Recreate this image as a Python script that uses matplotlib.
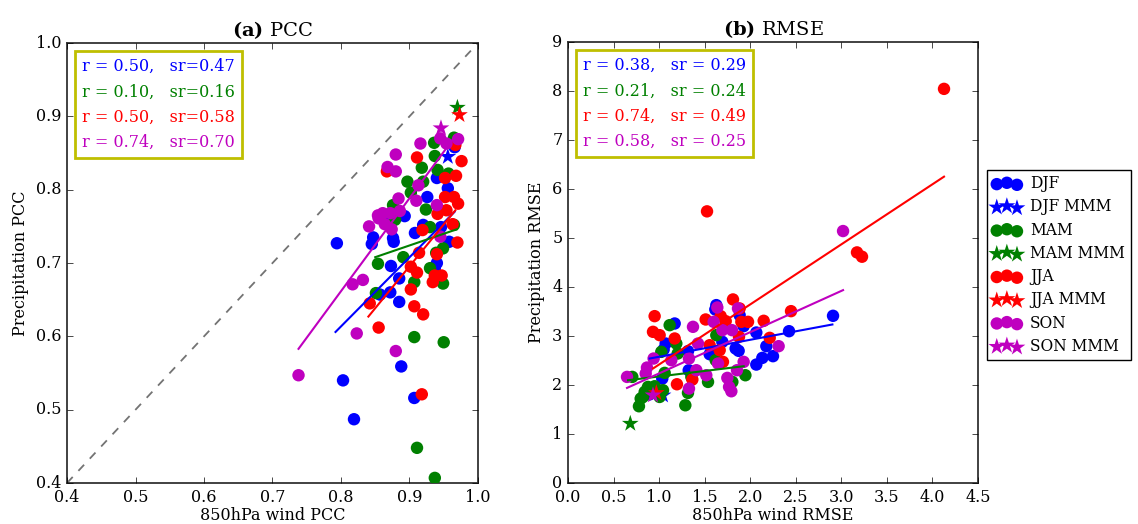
import numpy as np
import matplotlib
matplotlib.use('Agg')
import matplotlib.pyplot as plt
from matplotlib.offsetbox import TextArea, VPacker, AnchoredOffsetbox

plt.style.use('classic')
plt.rcParams['font.family'] = ['DejaVu Serif']
plt.rcParams['mathtext.fontset'] = 'dejavuserif'

seasons = ['DJF', 'MAM', 'JJA', 'SON']
colors = ['b', 'g', 'r', 'm']

# ---- (a) PCC: wind PCC vs precipitation PCC for each model ----
pcc_x = {
    'DJF': [0.794, 0.803, 0.819, 0.888, 0.907, 0.847, 0.845, 0.876, 0.877, 0.893, 0.874, 0.908, 0.920,
            0.926, 0.940, 0.956, 0.946, 0.958, 0.966, 0.873, 0.885, 0.857, 0.872, 0.885, 0.940, 0.937],
    'MAM': [0.937, 0.911, 0.907, 0.950, 0.851, 0.854, 0.891, 0.907, 0.930, 0.949, 0.949, 0.924, 0.930,
            0.965, 0.876, 0.897, 0.902, 0.920, 0.918, 0.937, 0.936, 0.941, 0.957, 0.965, 0.879, 0.939],
    'JJA': [0.918, 0.855, 0.842, 0.902, 0.907, 0.920, 0.902, 0.911, 0.914, 0.934, 0.937, 0.947, 0.940,
            0.919, 0.941, 0.954, 0.952, 0.965, 0.971, 0.963, 0.970, 0.952, 0.968, 0.976, 0.911, 0.867, 0.967],
    'SON': [0.738, 0.823, 0.880, 0.817, 0.832, 0.841, 0.854, 0.855, 0.861, 0.872, 0.864, 0.874, 0.886,
            0.884, 0.868, 0.880, 0.880, 0.910, 0.913, 0.916, 0.940, 0.945, 0.945, 0.954, 0.971],
}
pcc_y = {
    'DJF': [0.727, 0.540, 0.487, 0.559, 0.516, 0.735, 0.726, 0.734, 0.729, 0.764, 0.761, 0.741, 0.752,
            0.790, 0.816, 0.802, 0.749, 0.729, 0.858, 0.696, 0.679, 0.657, 0.660, 0.647, 0.700, 0.693],
    'MAM': [0.407, 0.448, 0.599, 0.592, 0.659, 0.699, 0.708, 0.674, 0.693, 0.672, 0.720, 0.773, 0.749,
            0.752, 0.779, 0.811, 0.796, 0.811, 0.830, 0.846, 0.864, 0.827, 0.822, 0.871, 0.759, 0.714],
    'JJA': [0.521, 0.612, 0.645, 0.664, 0.641, 0.630, 0.695, 0.687, 0.714, 0.674, 0.683, 0.683, 0.712,
            0.745, 0.767, 0.772, 0.790, 0.790, 0.781, 0.753, 0.728, 0.816, 0.819, 0.839, 0.844, 0.825, 0.861],
    'SON': [0.547, 0.604, 0.580, 0.671, 0.677, 0.750, 0.765, 0.761, 0.768, 0.768, 0.753, 0.746, 0.771,
            0.788, 0.831, 0.825, 0.848, 0.785, 0.806, 0.863, 0.779, 0.736, 0.870, 0.863, 0.869],
}
pcc_mmm_x = [0.956, 0.970, 0.973, 0.946]
pcc_mmm_y = [0.845, 0.912, 0.902, 0.884]
# regression line end points
pcc_fit_x = [[0.792, 0.966], [0.850, 0.969], [0.840, 0.967], [0.738, 0.966]]
pcc_fit_y = [[0.606, 0.770], [0.708, 0.746], [0.627, 0.772], [0.583, 0.872]]
pcc_r = ['0.50', '0.10', '0.50', '0.74']
pcc_sr = ['0.47', '0.16', '0.58', '0.70']

# ---- (b) RMSE ----
rmse_x = {
    'DJF': [2.909, 2.426, 2.067, 2.177, 2.133, 2.250, 2.067, 1.628, 1.617, 1.884, 1.928, 1.840, 1.873,
            1.555, 1.694, 1.171, 1.072, 1.050, 1.317, 1.325, 1.035, 0.896],
    'MAM': [0.779, 1.288, 0.798, 0.842, 0.878, 0.951, 1.043, 1.317, 0.706, 1.024, 1.116, 1.189, 1.537,
            1.621, 1.628, 1.804, 1.947, 1.354, 1.061, 1.204, 0.823, 1.006],
    'JJA': [4.127, 1.526, 3.172, 3.227, 2.448, 1.811, 1.884, 1.676, 1.511, 1.731, 1.903, 1.976, 2.148,
            2.214, 1.877, 1.555, 1.665, 1.701, 0.951, 0.933, 1.006, 1.171, 1.196, 1.365],
    'SON': [3.019, 2.312, 1.928, 1.855, 1.749, 1.768, 1.793, 1.647, 1.518, 1.409, 1.328, 1.372, 1.427,
            1.599, 1.639, 1.866, 1.694, 1.800, 1.328, 1.134, 0.940, 0.867, 0.853, 0.648],
}
rmse_y = {
    'DJF': [3.413, 3.099, 3.072, 2.793, 2.554, 2.589, 2.418, 3.631, 3.542, 3.426, 3.202, 2.745, 2.698,
            2.629, 2.882, 3.256, 2.847, 2.725, 2.691, 2.302, 2.132, 1.810],
    'MAM': [1.567, 1.587, 1.723, 1.860, 1.962, 1.975, 1.894, 1.839, 2.166, 2.677, 3.222, 2.847, 2.064,
            2.507, 3.018, 2.064, 2.200, 2.166, 2.248, 2.643, 1.757, 1.757],
    'JJA': [8.045, 5.545, 4.707, 4.619, 3.508, 3.747, 3.563, 3.406, 3.338, 3.304, 3.290, 3.290, 3.311,
            2.963, 2.984, 2.813, 2.711, 2.473, 3.406, 3.086, 3.018, 2.950, 2.016, 2.112],
    'SON': [5.143, 2.793, 2.473, 2.302, 2.146, 1.962, 1.873, 2.439, 2.200, 2.302, 2.541, 3.188, 2.847,
            3.290, 3.583, 3.563, 3.120, 3.120, 1.928, 2.507, 2.541, 2.357, 2.234, 2.166],
}
rmse_mmm_x = [1.043, 0.684, 0.970, 0.933]
rmse_mmm_y = [1.790, 1.213, 1.840, 1.792]
rmse_fit_x = [[0.896, 2.902], [0.659, 1.928], [0.933, 4.127], [0.648, 3.019]]
rmse_fit_y = [[2.541, 3.236], [2.098, 2.384], [2.337, 6.253], [1.941, 3.937]]
rmse_r = ['0.38', '0.21', '0.74', '0.58']
rmse_sr = ['0.29', '0.24', '0.49', '0.25']

fig = plt.figure(figsize=(11.38, 5.24), dpi=100, facecolor='white')
ax1 = fig.add_axes([0.0589, 0.0782, 0.3611, 0.8396])
ax2 = fig.add_axes([0.4991, 0.0782, 0.3603, 0.8415])


def draw_panel(ax, xs, ys, mx, my, fx, fy):
    for i, s in enumerate(seasons):
        c = colors[i]
        ax.scatter(xs[s], ys[s], s=80, c=c, edgecolors='none', label=s, zorder=3)
        ax.scatter([mx[i]], [my[i]], s=160, marker='*', c=c, edgecolors='none',
                   label=s + ' MMM', zorder=3)
        ax.plot(fx[i], fy[i], color=c, lw=1.5, zorder=4)


def stat_box(ax, rs, srs, fmt):
    rows = [TextArea(fmt % (rs[i], srs[i]), textprops=dict(color=colors[i], size=11.5))
            for i in range(4)]
    pack = VPacker(children=rows, align='left', pad=0, sep=6)
    box = AnchoredOffsetbox(loc='upper left', child=pack, pad=0.35, borderpad=0.4, frameon=True)
    box.patch.set_edgecolor((0.75, 0.75, 0))
    box.patch.set_linewidth(2)
    ax.add_artist(box)


draw_panel(ax1, pcc_x, pcc_y, pcc_mmm_x, pcc_mmm_y, pcc_fit_x, pcc_fit_y)
ax1.plot([0.4, 1.0], [0.4, 1.0], '--', color='0.45', lw=1.3, zorder=2)
ax1.set_xlim(0.4, 1.0)
ax1.set_ylim(0.4, 1.0)
ax1.set_xticks(np.arange(0.4, 1.01, 0.1))
ax1.set_yticks(np.arange(0.4, 1.01, 0.1))
ax1.set_xlabel('850hPa wind PCC', fontsize=11.5, labelpad=1)
ax1.set_ylabel('Precipitation PCC', fontsize=11.5)
ax1.set_title(r'$\mathbf{(a)}$ PCC', fontsize=14)
stat_box(ax1, pcc_r, pcc_sr, 'r = %s,   sr=%s')

draw_panel(ax2, rmse_x, rmse_y, rmse_mmm_x, rmse_mmm_y, rmse_fit_x, rmse_fit_y)
ax2.set_xlim(0, 4.5)
ax2.set_ylim(0, 9)
ax2.set_xticks(np.arange(0, 4.51, 0.5))
ax2.set_yticks(np.arange(0, 9.1, 1))
ax2.set_xlabel('850hPa wind RMSE', fontsize=11.5, labelpad=1)
ax2.set_ylabel('Precipitation RMSE', fontsize=11.5)
ax2.set_title(r'$\mathbf{(b)}$ RMSE', fontsize=14)
stat_box(ax2, rmse_r, rmse_sr, 'r = %s,   sr = %s')

for ax in (ax1, ax2):
    ax.tick_params(labelsize=11.5, pad=4)
    for sp in ax.spines.values():
        sp.set_linewidth(1.3)
        sp.set_edgecolor('0.2')

handles, labels = ax2.get_legend_handles_labels()
fig.legend(handles, labels, loc='upper left', bbox_to_anchor=(0.867, 0.676),
           scatterpoints=3, fontsize=11.2, borderaxespad=0, handletextpad=0.55,
           handlelength=1.9, borderpad=0.35, labelspacing=0.4)

fig.savefig('out.png', dpi=100, facecolor='white')
